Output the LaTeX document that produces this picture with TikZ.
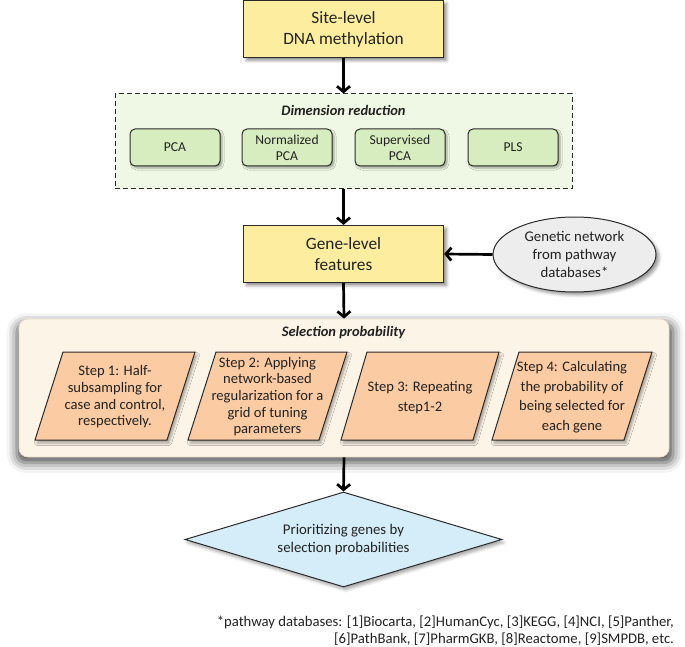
\documentclass[tikz,border=0pt]{standalone}
\usepackage{fontspec}
\setmainfont{Carlito}
\usetikzlibrary{arrows.meta,shapes.geometric,shadows.blur}
\definecolor{ybox}{HTML}{FCEE9E}
\definecolor{dimfill}{HTML}{EFF8E4}
\definecolor{gbox}{HTML}{D8EDBF}
\definecolor{ellfill}{HTML}{EDEDED}
\definecolor{selfill}{HTML}{FDF4E8}
\definecolor{selborder}{HTML}{E6DDD0}
\definecolor{stepfill}{HTML}{FBCBA3}
\definecolor{diafill}{HTML}{D5EDF8}
\definecolor{edge}{HTML}{2B2B2B}
\definecolor{txt}{HTML}{222222}
\begin{document}
\begin{tikzpicture}[x=1pt,y=-1pt,
  every node/.style={text=txt},
  bigbox/.style={draw=edge, line width=1.2pt, fill=ybox, minimum width=200pt, minimum height=57pt, inner sep=0pt, align=center,
     font=\fontsize{17.3}{21}\selectfont,
     blur shadow={shadow xshift=3pt, shadow yshift=-3pt, shadow blur radius=3pt, shadow opacity=45}},
  pcabox/.style={draw=edge, line width=1pt, fill=gbox, rounded corners=5pt, minimum width=90pt, minimum height=37pt, inner sep=0pt, align=center,
     font=\fontsize{13.6}{16.3}\selectfont,
     blur shadow={shadow xshift=2pt, shadow yshift=-2pt, shadow blur radius=2pt, shadow opacity=35}},
  steppoly/.style={draw=edge, line width=1pt, fill=stepfill,
     blur shadow={shadow xshift=2pt, shadow yshift=-3pt, shadow blur radius=2.5pt, shadow opacity=35}},
  steptext/.style={align=center, inner sep=0pt},
  arr/.style={draw=black, line width=2.7pt, -{Straight Barb[length=5.5pt,width=13pt]}},
  heading/.style={font=\fontsize{14.5}{17}\selectfont\bfseries\itshape},
  foottext/.style={anchor=base east, inner sep=0pt, font=\fontsize{14.7}{17}\selectfont}
]
\useasboundingbox (0,0) rectangle (685,647);

% Site-level
\node[bigbox] (site) at (343.5,29) {Site-level\\DNA methylation};

% Dimension reduction
\node[draw=edge, line width=1pt, dash pattern=on 5pt off 3pt, fill=dimfill, minimum width=457pt, minimum height=95pt, inner sep=0pt] (dim) at (343.5,141.5) {};
\node[heading] (dimt) at (343.5,110.5) {Dimension reduction};
\node[pcabox] (pca) at (175,147.5) {PCA};
\node[pcabox] (npca) at (287,147.5) {Normalized\\PCA};
\node[pcabox] (spca) at (400,147.5) {Supervised\\PCA};
\node[pcabox] (pls) at (513,147.5) {PLS};

% Gene-level
\node[bigbox] (gene) at (343.5,254) {Gene-level\\features};
\node[ellipse, draw=edge, line width=1pt, fill=ellfill, minimum width=163pt, minimum height=75pt, inner sep=0pt, align=center,
   font=\fontsize{14.8}{18}\selectfont,
   blur shadow={shadow xshift=3pt, shadow yshift=-3pt, shadow blur radius=3pt, shadow opacity=40}]
   (net) at (574.5,254.5) {Genetic network\\from pathway\\databases*};

% Selection probability
\node[draw=selborder, line width=0.8pt, fill=selfill, rounded corners=9pt, minimum width=650pt, minimum height=138pt, inner sep=0pt,
   blur shadow={shadow xshift=1pt, shadow yshift=-5pt, shadow blur radius=10pt, shadow opacity=70, shadow scale=1.01}]
   (sel) at (344,388) {};
\node[heading] (selt) at (343.5,333) {Selection probability};

\draw[steppoly] (35,440) -- (63,352) -- (195,352) -- (167,440) -- cycle;
\draw[steppoly] (188,440) -- (216,352) -- (347,352) -- (319,440) -- cycle;
\draw[steppoly] (341,440) -- (367,352) -- (499,352) -- (473,440) -- cycle;
\draw[steppoly] (492,440) -- (519,352) -- (652,352) -- (624,440) -- cycle;

\node[steptext, font=\fontsize{14.6}{16.7}\selectfont] (s1) at (115,397) {Step 1: Half-\\subsampling for\\case and control,\\respectively.};
\node[steptext, font=\fontsize{14.6}{16.7}\selectfont] (s2) at (267.5,396.7) {Step 2: Applying\\network-based\\regularization for a\\grid of tuning\\parameters};
\node[steptext, font=\fontsize{14.6}{19.7}\selectfont] (s3) at (420,397.5) {Step 3: Repeating\\step1-2};
\node[steptext, font=\fontsize{14.6}{19.7}\selectfont] (s4) at (572,397.3) {Step 4: Calculating\\the probability of\\being selected for\\each gene};

% Diamond
\node[diamond, draw=edge, line width=1pt, fill=diafill, minimum width=317pt, minimum height=95pt, shape aspect=3.3, inner sep=0pt, align=center,
   font=\fontsize{14.8}{17.5}\selectfont,
   blur shadow={shadow xshift=2pt, shadow yshift=-3pt, shadow blur radius=3pt, shadow opacity=35}]
   (prio) at (343.5,539.5) {Prioritizing genes by\\selection probabilities};

% Footnote
\node[foottext] (foot1) at (674,626) {*pathway databases: [1]Biocarta, [2]HumanCyc, [3]KEGG, [4]NCI, [5]Panther,};
\node[foottext] (foot2) at (674,643.5) {[6]PathBank, [7]PharmGKB, [8]Reactome, [9]SMPDB, etc.};

% Connectors
\draw[arr] (site.south) -- (dim.north);
\draw[arr] (dim.south) -- (gene.north);
\draw[arr] (net.west) -- (gene.east);
\draw[arr] (gene.south) -- (sel.north);
\draw[arr] (sel.south) -- (prio.north);
\end{tikzpicture}
\end{document}
